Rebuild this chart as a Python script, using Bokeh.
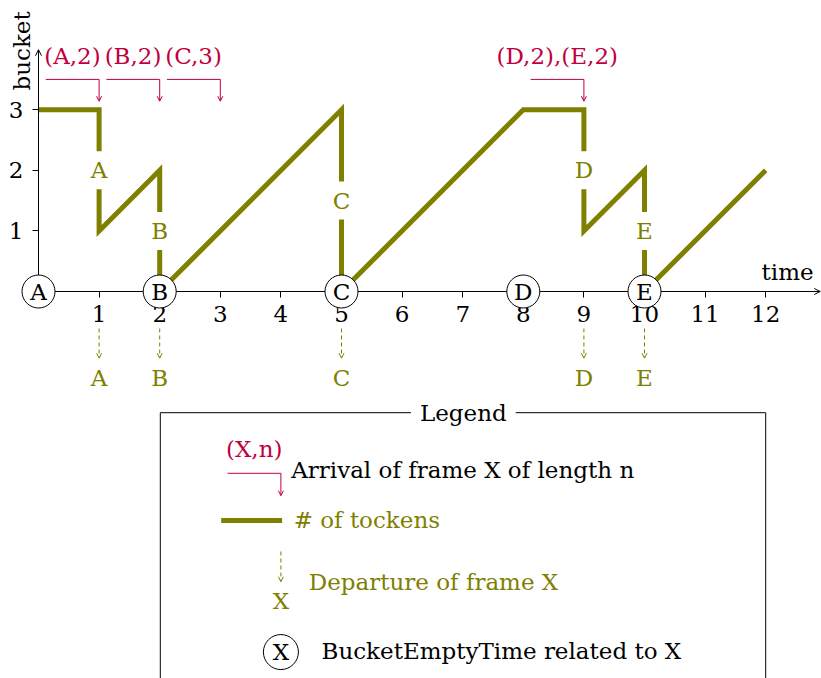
from bokeh.plotting import figure
from bokeh.models import (Range1d, LinearAxis, FixedTicker, Arrow, OpenHead,
                          ColumnDataSource)
from bokeh.core.properties import value
from bokeh.embed import file_html
from bokeh.resources import INLINE

# ---------------- data ----------------
token_time = [0, 1, 1, 2, 2, 5, 5, 8, 9, 9, 10, 10, 12]
token_count = [3, 3, 1, 2, 0, 3, 0, 3, 3, 1, 2, 0, 2]

departure_time = [1, 2, 5, 9, 10]
departure_frame = ["A", "B", "C", "D", "E"]

arrival_time = [1, 2, 3, 9]
arrival_label = ["(A,2)", "(B,2)", "(C,3)", "(D,2),(E,2)"]

empty_time = [0, 2, 5, 8, 10]
empty_frame = ["A", "B", "C", "D", "E"]

x_ticks = [1, 2, 3, 4, 5, 6, 7, 8, 9, 10, 11, 12]
y_ticks = [1, 2, 3]

# ---------------- style ----------------
OLIVE = "#808000"
RED = "#BF0040"
FONT = value("DejaVu Serif")
FS = "23px"

W, H = 821, 678
UNIT = 60.6  # px per data unit
X0_PX, Y0_PX = 38, 291  # origin inside the figure (px)

p = figure(width=W, height=H, output_backend="svg", toolbar_location=None,
           x_range=Range1d(-X0_PX / UNIT, (W - X0_PX) / UNIT),
           y_range=Range1d(-(H - Y0_PX) / UNIT, Y0_PX / UNIT),
           x_axis_type=None, y_axis_type=None, min_border=0,
           min_border_left=0, min_border_right=0, min_border_top=0,
           min_border_bottom=0)
p.grid.visible = False
p.outline_line_color = None
p.background_fill_color = "white"
p.border_fill_color = "white"

# ---------------- axes (fixed at the origin) ----------------
xaxis = LinearAxis(fixed_location=0, ticker=FixedTicker(ticks=x_ticks))
yaxis = LinearAxis(fixed_location=0, ticker=FixedTicker(ticks=y_ticks))
for ax in (xaxis, yaxis):
    ax.axis_line_color = None
    ax.major_tick_in = 0
    ax.major_tick_out = 6
    ax.minor_tick_in = 0
    ax.minor_tick_out = 0
    ax.major_tick_line_color = "black"
    ax.major_label_text_font = "DejaVu Serif"
    ax.major_label_text_font_size = FS
    ax.major_label_text_color = "black"
xaxis.major_label_standoff = 8
yaxis.major_label_standoff = 9
p.add_layout(xaxis, "below")
p.add_layout(yaxis, "left")

p.add_layout(Arrow(x_start=0, y_start=0, x_end=12.9, y_end=0, line_width=1,
                   line_color="black",
                   end=OpenHead(size=6, line_width=1, line_color="black")))
p.add_layout(Arrow(x_start=0, y_start=0, x_end=0, y_end=3.99, line_width=1,
                   line_color="black",
                   end=OpenHead(size=6, line_width=1, line_color="black")))

p.text(x=[12.79], y=[0.33], text=["time"], text_font=FONT, text_font_size=FS,
       text_align="right", text_baseline="middle", text_color="black")
p.text(x=[-0.28], y=[3.97], text=["bucket"], angle=1.5708, text_font=FONT,
       text_font_size=FS, text_align="center", text_baseline="middle",
       text_color="black")

# ---------------- tokens line ----------------
p.line(token_time, token_count, line_color=OLIVE, line_width=5,
       line_join="miter", line_cap="butt")

# labels on the drops (mid of each drop)
drop_mid = []
for t in departure_time:
    vals = [c for tt, c in zip(token_time, token_count) if tt == t]
    drop_mid.append((max(vals) + min(vals)) / 2)
p.text(x=departure_time, y=drop_mid, text=departure_frame, text_font=FONT,
       text_font_size=FS, text_color=OLIVE, text_align="center",
       text_baseline="middle", background_fill_color="white", padding=6)

# ---------------- departures (dashed arrows below axis) ----------------
dep_src = ColumnDataSource(dict(t=departure_time,
                                y0=[-0.61] * len(departure_time),
                                y1=[-1.10] * len(departure_time)))
p.add_layout(Arrow(x_start="t", y_start="y0", x_end="t", y_end="y1",
                   source=dep_src, line_color=OLIVE, line_width=1,
                   line_dash="4 3",
                   end=OpenHead(size=5, line_width=1, line_color=OLIVE)))
p.text(x=departure_time, y=[-1.42] * len(departure_time), text=departure_frame,
       text_font=FONT, text_font_size=FS, text_color=OLIVE,
       text_align="center", text_baseline="middle")

# ---------------- arrivals (elbow arrows at the top) ----------------
arr_start = [t - 0.88 for t in arrival_time]
arr_mid = [t - 0.44 for t in arrival_time]
p.segment(x0=arr_start, y0=[3.5] * len(arrival_time), x1=arrival_time,
          y1=[3.5] * len(arrival_time), line_color=RED, line_width=1)
arr_src = ColumnDataSource(dict(t=arrival_time,
                                y0=[3.5] * len(arrival_time),
                                y1=[3.14] * len(arrival_time)))
p.add_layout(Arrow(x_start="t", y_start="y0", x_end="t", y_end="y1",
                   source=arr_src, line_color=RED, line_width=1,
                   end=OpenHead(size=5, line_width=1, line_color=RED)))
p.text(x=arr_mid, y=[3.88] * len(arrival_time), text=arrival_label,
       text_font=FONT, text_font_size=FS, text_color=RED,
       text_align="center", text_baseline="middle")

# ---------------- bucket-empty circles ----------------
circ = p.scatter(x=empty_time, y=[0] * len(empty_time), marker="circle",
                 size=33, fill_color="white", line_color="black",
                 line_width=1)
circ.level = "overlay"
ctxt = p.text(x=empty_time, y=[0] * len(empty_time), text=empty_frame,
              text_font=FONT, text_font_size=FS, text_color="black",
              text_align="center", text_baseline="middle")
ctxt.level = "overlay"

# ---------------- legend box ----------------
ybot = -(H - Y0_PX) / UNIT - 0.2
p.multi_line(xs=[[2.01, 2.01], [12.0, 12.0], [2.01, 12.0]],
             ys=[[ybot, -2.0], [ybot, -2.0], [-2.0, -2.0]],
             line_color="black", line_width=1)
p.text(x=[7.01], y=[-2.0], text=["Legend"], text_font=FONT,
       text_font_size=FS, text_color="black", text_align="center",
       text_baseline="middle", background_fill_color="white", padding=9)

# arrival entry
p.segment(x0=[3.12], y0=[-3.0], x1=[4.0], y1=[-3.0], line_color=RED,
          line_width=1)
p.add_layout(Arrow(x_start=4.0, y_start=-3.0, x_end=4.0, y_end=-3.37,
                   line_color=RED, line_width=1,
                   end=OpenHead(size=5, line_width=1, line_color=RED)))
p.text(x=[3.56], y=[-2.60], text=["(X,n)"], text_font=FONT,
       text_font_size=FS, text_color=RED, text_align="center",
       text_baseline="middle")
p.text(x=[4.17], y=[-2.95], text=["Arrival of frame X of length n"],
       text_font=FONT, text_font_size=FS, text_color="black",
       text_align="left", text_baseline="middle")

# tokens entry
p.line(x=[3.015, 4.02], y=[-3.78, -3.78], line_color=OLIVE, line_width=5,
       line_cap="butt")
p.text(x=[4.21], y=[-3.77], text=["# of tockens"], text_font=FONT,
       text_font_size=FS, text_color=OLIVE, text_align="left",
       text_baseline="middle")

# departure entry
p.add_layout(Arrow(x_start=4.0, y_start=-4.29, x_end=4.0, y_end=-4.79,
                   line_color=OLIVE, line_width=1, line_dash="4 3",
                   end=OpenHead(size=5, line_width=1, line_color=OLIVE)))
p.text(x=[4.0], y=[-5.1], text=["X"], text_font=FONT, text_font_size=FS,
       text_color=OLIVE, text_align="center", text_baseline="middle")
p.text(x=[4.46], y=[-4.79], text=["Departure of frame X"], text_font=FONT,
       text_font_size=FS, text_color=OLIVE, text_align="left",
       text_baseline="middle")

# bucket-empty entry
p.scatter(x=[4.0], y=[-5.95], marker="circle", size=35,
          fill_color="white", line_color="black", line_width=1)
p.text(x=[4.0], y=[-5.95], text=["X"], text_font=FONT, text_font_size=FS,
       text_color="black", text_align="center", text_baseline="middle")
p.text(x=[4.67], y=[-5.94], text=["BucketEmptyTime related to X"],
       text_font=FONT, text_font_size=FS, text_color="black",
       text_align="left", text_baseline="middle")

open("out.html", "w").write(file_html(p, INLINE))
